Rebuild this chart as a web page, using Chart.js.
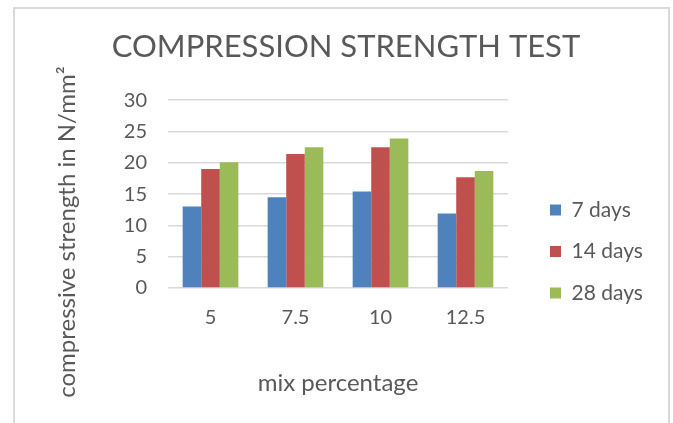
<!DOCTYPE html>
<html lang="en">
<head>
    <meta charset="UTF-8">
    <script src="https://cdn.jsdelivr.net/npm/chart.js"></script>
    <title>Compression strength test</title>
    <style>
        body { margin: 0; background: #fff; }
        #frame { position: absolute; left: 13px; top: 7px; width: 653px; height: 440px;
                 border: 2px solid #d9d9d9; border-bottom: none; }
        #wrap { position: absolute; left: 0; top: 0; width: 673px; height: 423px; }
    </style>
</head>
<body>
    <div id="frame"></div>
    <div id="wrap"><canvas id="grafico"></canvas></div>

    <script>
        const categorias = ['5', '7.5', '10', '12.5'];
        const seteDias = [13, 14.5, 15.4, 11.9];
        const quatorzeDias = [19, 21.4, 22.5, 17.7];
        const vinteOitoDias = [20.1, 22.5, 23.9, 18.7];
        const series = ['7 days', '14 days', '28 days'];

        const fonte = 'Lato';
        const cinza = '#595959';

        // y axis title drawn by hand so it sits where Excel put it
        const tituloY = {
            id: 'tituloY',
            afterDraw(chart) {
                const ctx = chart.ctx;
                ctx.save();
                ctx.translate(75, 232);
                ctx.rotate(-Math.PI / 2);
                ctx.font = '24px ' + fonte;
                ctx.fillStyle = cinza;
                ctx.textAlign = 'center';
                ctx.textBaseline = 'alphabetic';
                ctx.fillText('compressive strength in N/mm²', 0, 0);
                ctx.restore();
            }
        };

        const ctx = document.getElementById('grafico').getContext('2d');
        new Chart(ctx, {
            type: 'bar',
            data: {
                labels: categorias,
                datasets: [
                    { label: series[0], data: seteDias, backgroundColor: '#4f81bd' },
                    { label: series[1], data: quatorzeDias, backgroundColor: '#c0504d' },
                    { label: series[2], data: vinteOitoDias, backgroundColor: '#9bbb59' }
                ]
            },
            options: {
                responsive: true,
                maintainAspectRatio: false,
                animation: false,
                categoryPercentage: 0.655,
                barPercentage: 1.0,
                layout: { padding: { left: 42.5, right: 23.5, top: 20, bottom: 0 } },
                plugins: {
                    title: {
                        display: true,
                        text: 'COMPRESSION STRENGTH TEST',
                        color: cinza,
                        font: { family: fonte, size: 31, weight: 'normal' },
                        padding: { top: 8, bottom: 35 }
                    },
                    legend: {
                        position: 'right',
                        align: 'start',
                        maxWidth: 120,
                        title: { display: true, text: '', padding: { top: 0, bottom: 144.6 }, font: { size: 12 } },
                        labels: {
                            color: cinza,
                            font: { family: fonte, size: 21 },
                            boxWidth: 11,
                            boxHeight: 11,
                            padding: 20.5
                        }
                    },
                    tooltip: { enabled: false }
                },
                scales: {
                    x: {
                        grid: { display: false },
                        border: { display: false },
                        ticks: { color: cinza, font: { family: fonte, size: 20 }, padding: 10 },
                        title: {
                            display: true,
                            text: 'mix percentage',
                            color: cinza,
                            font: { family: fonte, size: 24 },
                            padding: { top: 0, bottom: 25 }
                        },
                        afterFit(scale) { scale.height = 135; }
                    },
                    y: {
                        min: 0,
                        max: 30,
                        ticks: { stepSize: 5, color: cinza, font: { family: fonte, size: 20 }, padding: 21 },
                        grid: { color: '#d9d9d9', lineWidth: 1.5, drawTicks: false },
                        border: { display: false },
                        afterFit(scale) { scale.width = 125.5; }
                    },
                    espaco: {
                        type: 'linear',
                        position: 'right',
                        grid: { display: false },
                        border: { display: false },
                        ticks: { display: false },
                        afterFit(scale) { scale.width = 21.5; }
                    }
                }
            },
            plugins: [tituloY]
        });
    </script>
</body>
</html>
